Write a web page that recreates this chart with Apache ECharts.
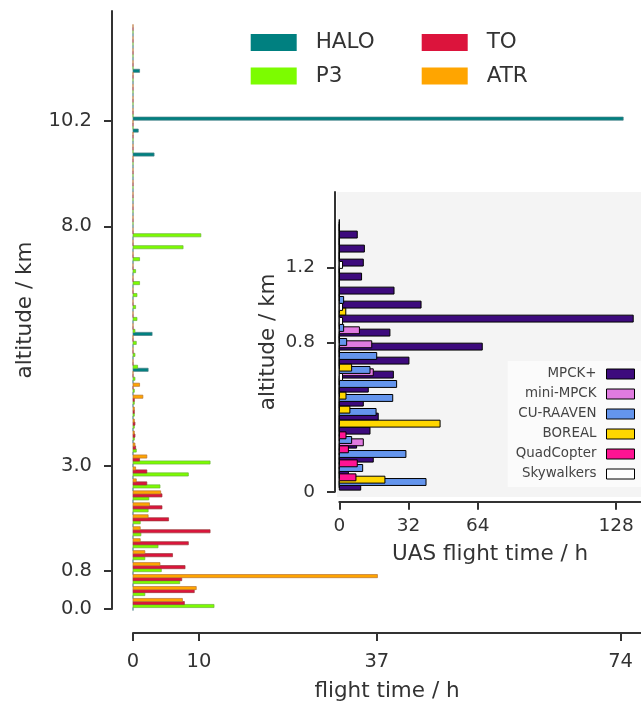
<!DOCTYPE html>
<html><head><meta charset="utf-8">
<script src="https://cdn.jsdelivr.net/npm/echarts@6/dist/echarts.min.js"></script>
<style>html,body{margin:0;padding:0;background:#fff}#c{width:641px;height:707px}</style>
</head><body><div id="c"></div>
<script>
// ---------- main chart: altitude bins (km, bin start) ----------
const mainBins = [0,0.25,0.5,0.75,1,1.25,1.5,1.75,2,2.25,
  2.5,2.75,3,3.25,3.5,3.75,4,4.25,4.5,4.75,
  5,5.25,5.5,5.75,6,6.25,6.5,6.75,7,7.25,
  7.5,7.75,8,8.25,8.5,8.75,9,9.25,9.5,9.75,
  10,10.25,10.5,10.75,11,11.25,11.5,11.75,12];
const haloHours = [0,0,0,0,0,0,0,0,0,0, 0,0,0,0,0,0,0,0,0,0,
  2.3,0,0,2.9,0,0,0,0,0,0, 0,0,0,0,0,0,0,0,3.2,0,
  0.8,74.4,0,0,0,1.0,0,0,0];
const p3Hours = [12.3,1.8,7.1,4.3,1.8,3.8,1.2,1.1,2.3,2.4,
  4.1,8.4,11.7,0.5,0.2,0.2,0.2,0.2,0.2,0.3,
  0.7,0.3,0.5,0.3,0.6,0.4,0.6,1.0,0.4,1.0,
  7.6,10.3,0,0,0,0,0,0,0,0, 0,0,0,0,0,0,0,0,0];
const toHours = [7.8,9.3,7.4,7.9,6.0,8.4,11.7,5.4,4.4,4.4,
  2.1,2.1,1.0,0.4,0.3,0.3,0.2,0.2,0,0,
  0,0,0,0,0,0,0,0,0,0, 0,0,0,0,0,0,0,0,0,0, 0,0,0,0,0,0,0,0,0];
const atrHours = [7.5,9.6,37.1,4.1,1.8,1.1,1.1,2.3,2.5,4.2,
  0.5,0.4,2.1,0.3,0.2,0.2,0.2,1.5,1.0,0,
  0,0,0,0,0,0,0,0,0,0, 0,0,0,0,0,0,0,0,0,0, 0,0,0,0,0,0,0,0,0];
const mainXTicks = [0,10,37,74];
const mainYTicks = [0,0.8,3.0,8.0,10.2];

// ---------- inset: UAS ----------
const insetBins = [0,0.075,0.15,0.225,0.3,0.375,0.45,0.525,0.6,0.675,
  0.75,0.825,0.9,0.975,1.05,1.125,1.2,1.275,1.35];
const mpckHours =    [9.9,4.2,15.7,8.0,14.2,18.0,11.1,13.4,25.0,32.2,66.1,23.4,135.9,37.8,25.3,10.3,11.1,11.6,8.3];
const miniHours =    [0,0,0,11.1,0,0,0,0,15.7,0,15.0,9.3,0,0,0,0,0,0,0];
const raavenHours =  [40.1,10.8,30.8,5.7,0,17.0,24.7,26.5,14.2,17.3,3.4,2.0,0,2.0,0,0,0,0,0];
const borealHours =  [21.1,0,0,0,46.6,4.9,3.1,0,5.7,0,0,0,3.0,0,0,0,0,0,0];
const quadHours =    [7.7,8.3,4.2,3.1,0,0,0,0,0,0,0,0,0,0,0,0,0,0,0];
const skyHours =     [0,0,0,0,0,0,0,1.5,0,0,0,1.5,1.5,0,0,1.5,0,0,0];
const insetXTicks = [0,32,64,128];
const insetYTicks = [0,0.8,1.2];

const FONT = 'DejaVu Sans';
const TXT = '#333';

function barSeries(name, values, bins, slot, cfg) {
  return {
    type: 'custom', name: name,
    xAxisIndex: cfg.g, yAxisIndex: cfg.g, z: 3,
    data: values.map((v, i) => [v, bins[i]]),
    encode: {x: 0, y: 1},
    itemStyle: {color: cfg.color},
    renderItem: function (params, api) {
      const v = api.value(0), b = api.value(1);
      const c = b + cfg.base + slot * cfg.step;
      const p0 = api.coord([0, c - cfg.h / 2]);
      const p1 = api.coord([v, c + cfg.h / 2]);
      return {type: 'rect',
        shape: {x: p0[0], y: p1[1], width: p1[0] - p0[0], height: p0[1] - p1[1]},
        style: {fill: cfg.color, stroke: cfg.stroke, lineWidth: cfg.lw}};
    }
  };
}
const M = {g: 0, base: 0, step: 0.0625, h: 0.066, lw: 0.7};
const I = {g: 1, base: 0.027, step: 0.0125, h: 0.037, lw: 1};

function axisCommon(ticks, fmt, fs, margin) {
  return {
    axisLine: {show: true, onZero: false, lineStyle: {color: '#333', width: 2}},
    axisTick: {show: true, length: 8, lineStyle: {color: '#333', width: 2}, customValues: ticks},
    axisLabel: {customValues: ticks, formatter: fmt, fontSize: fs, color: TXT, fontFamily: FONT, margin: margin},
    splitLine: {show: false},
    nameTextStyle: {fontSize: 21.5, color: TXT, fontFamily: FONT}
  };
}

const chart = echarts.init(document.getElementById('c'), null, {renderer: 'canvas'});
const option = {
  backgroundColor: '#fff',
  animation: false,
  textStyle: {fontFamily: FONT},
  grid: [
    {left: 133, top: 11, right: 0, bottom: 93},
    {left: 339.3, top: 192, right: 0, bottom: 215.3}
  ],
  graphic: [{type: 'rect', z: 1, shape: {x: 337, y: 192, width: 304, height: 305}, style: {fill: '#f4f4f4'}}],
  xAxis: [
    Object.assign({type: 'value', gridIndex: 0, min: 0, max: 77.1, offset: 24,
      name: 'flight time / h', nameLocation: 'middle', nameGap: 47},
      axisCommon(mainXTicks, v => String(v), 19.5, 19)),
    Object.assign({type: 'value', gridIndex: 1, min: 0, max: 139.5, offset: 10,
      name: 'UAS flight time / h', nameLocation: 'middle', nameGap: 42},
      axisCommon(insetXTicks, v => String(v), 18.5, 15))
  ],
  yAxis: [
    Object.assign({type: 'value', gridIndex: 0, min: 0, max: 12.5, offset: 21,
      name: 'altitude / km', nameLocation: 'middle', nameGap: 76},
      axisCommon(mainYTicks, v => v.toFixed(1), 19.5, 20)),
    Object.assign({type: 'value', gridIndex: 1, min: 0, max: 1.605, offset: 4.3,
      name: 'altitude / km', nameLocation: 'middle', nameGap: 56},
      axisCommon(insetYTicks, v => (v === 0 ? '0' : v.toFixed(1)), 18.5, 20))
  ],
  legend: [
    {orient: 'vertical', left: 250.7, top: 31.5, padding: 0, itemGap: 11.5, itemWidth: 46, itemHeight: 17,
      icon: 'rect', textStyle: {fontSize: 21.5, color: TXT, fontFamily: FONT, padding: [0, 0, 0, 14]},
      data: [{name: 'HALO', itemStyle: {color: '#008080'}}, {name: 'P3', itemStyle: {color: '#7CFC00'}}]},
    {orient: 'vertical', left: 421.7, top: 31.5, padding: 0, itemGap: 11.5, itemWidth: 46, itemHeight: 17,
      icon: 'rect', textStyle: {fontSize: 21.5, color: TXT, fontFamily: FONT, padding: [0, 0, 0, 14]},
      data: [{name: 'TO', itemStyle: {color: '#DC143C'}}, {name: 'ATR', itemStyle: {color: '#FFA500'}}]},
    {orient: 'vertical', align: 'right', right: 0, top: 361, padding: [5, 6, 5, 8], itemGap: 4,
      itemWidth: 28, itemHeight: 10, icon: 'rect', backgroundColor: 'rgba(252,252,252,0.9)',
      textStyle: {fontSize: 13.4, color: '#444', fontFamily: FONT, padding: [0, 5, 0, 0], lineHeight: 16},
      data: [
        {name: 'MPCK+', itemStyle: {color: '#3D0A7D', borderColor: '#000', borderWidth: 1}},
        {name: 'mini-MPCK', itemStyle: {color: '#E07BE0', borderColor: '#000', borderWidth: 1}},
        {name: 'CU-RAAVEN', itemStyle: {color: '#6495ED', borderColor: '#000', borderWidth: 1}},
        {name: 'BOREAL', itemStyle: {color: '#FFD700', borderColor: '#000', borderWidth: 1}},
        {name: 'QuadCopter', itemStyle: {color: '#FF1493', borderColor: '#000', borderWidth: 1}},
        {name: 'Skywalkers', itemStyle: {color: '#FFFFFF', borderColor: '#000', borderWidth: 1}}
      ]}
  ],
  series: [
    barSeries('HALO', haloHours, mainBins, 0, Object.assign({color: '#008080', stroke: '#4A7F86'}, M)),
    barSeries('P3', p3Hours, mainBins, 1, Object.assign({color: '#7CFC00', stroke: '#6BB33A'}, M)),
    barSeries('TO', toHours, mainBins, 2, Object.assign({color: '#DC143C', stroke: '#9A3A3A'}, M)),
    barSeries('ATR', atrHours, mainBins, 3, Object.assign({color: '#FFA500', stroke: '#B87333'}, M)),
    barSeries('MPCK+', mpckHours, insetBins, 0, Object.assign({color: '#3D0A7D', stroke: '#000'}, I)),
    barSeries('mini-MPCK', miniHours, insetBins, 1, Object.assign({color: '#E07BE0', stroke: '#000'}, I)),
    barSeries('CU-RAAVEN', raavenHours, insetBins, 2, Object.assign({color: '#6495ED', stroke: '#000'}, I)),
    barSeries('BOREAL', borealHours, insetBins, 3, Object.assign({color: '#FFD700', stroke: '#000'}, I)),
    barSeries('QuadCopter', quadHours, insetBins, 4, Object.assign({color: '#FF1493', stroke: '#000'}, I)),
    barSeries('Skywalkers', skyHours, insetBins, 5, Object.assign({color: '#FFFFFF', stroke: '#000'}, I))
  ]
};
chart.setOption(option);
</script>
</body></html>
